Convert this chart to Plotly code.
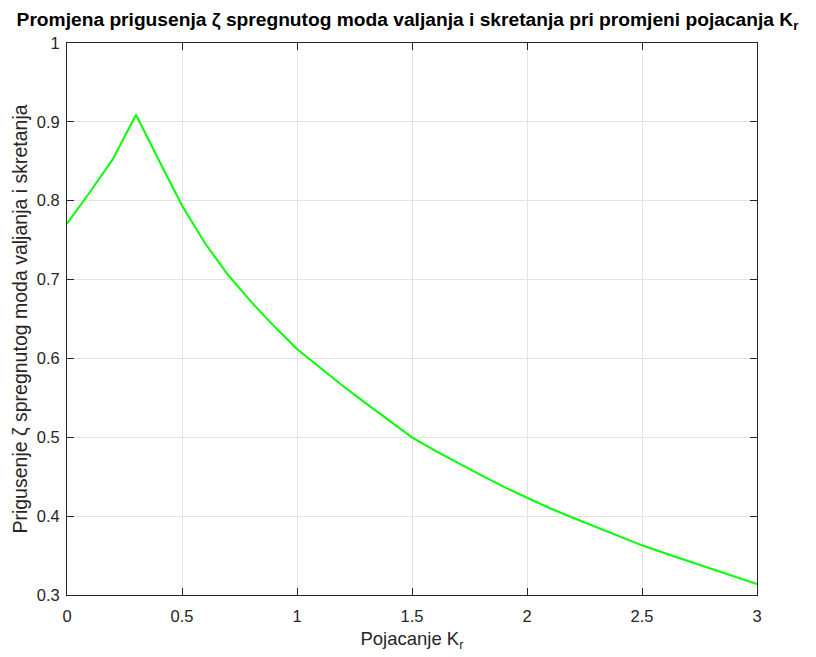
import plotly.graph_objects as go

# Gain K_r
kr = [0.0, 0.1, 0.2, 0.3, 0.4, 0.5, 0.6, 0.7, 0.8, 0.9, 1.0,
      1.1, 1.2, 1.3, 1.4, 1.5, 1.6, 1.7, 1.8, 1.9, 2.0,
      2.1, 2.2, 2.3, 2.4, 2.5, 2.6, 2.7, 2.8, 2.9, 3.0]
# Damping zeta
zeta = [0.771, 0.811, 0.853, 0.909, 0.851, 0.794, 0.746, 0.706, 0.672, 0.641, 0.612,
        0.588, 0.565, 0.543, 0.521, 0.500, 0.483, 0.467, 0.452, 0.437, 0.423,
        0.410, 0.398, 0.386, 0.374, 0.363, 0.353, 0.343, 0.333, 0.323, 0.314]

x_ticks = [0, 0.5, 1, 1.5, 2, 2.5, 3]
x_tick_labels = ["0", "0.5", "1", "1.5", "2", "2.5", "3"]
y_ticks = [0.3, 0.4, 0.5, 0.6, 0.7, 0.8, 0.9, 1.0]
y_tick_labels = ["0.3", "0.4", "0.5", "0.6", "0.7", "0.8", "0.9", "1"]

FONT = "Liberation Sans, Arial, Helvetica, sans-serif"
AX = "#262626"
GRID = "#e3e3e3"

W, H = 808, 649

fig = go.Figure()
fig.add_trace(go.Scatter(x=kr, y=zeta, mode="lines",
                         line=dict(color="#00ff00", width=2),
                         showlegend=False))

fig.update_layout(
    width=W, height=H,
    margin=dict(l=59, r=59, t=35, b=62, autoexpand=False),
    paper_bgcolor="white", plot_bgcolor="white",
    font=dict(family=FONT, size=16.5, color=AX),
    title=dict(text="<b>Promjena prigusenja ζ spregnutog moda valjanja i skretanja pri promjeni pojacanja K<sub>r</sub></b>",
               x=399.5 / W, xanchor="center", y=1 - 11 / H, yanchor="middle",
               font=dict(family=FONT, size=19.2, color="black")),
)
fig.update_xaxes(
    range=[0, 3], tickvals=x_ticks, ticktext=x_tick_labels,
    showgrid=True, gridcolor=GRID, gridwidth=1,
    zeroline=False, showline=True, linecolor=AX, linewidth=1,
    mirror="allticks", ticks="inside", ticklen=7, tickcolor=AX,
    tickfont=dict(size=16.5, color=AX), ticklabelstandoff=6,
    automargin=False,
    title=dict(text="Pojacanje K<sub>r</sub>", font=dict(size=18.5, color=AX), standoff=8),
)
fig.update_yaxes(
    range=[0.3, 1.0], tickvals=y_ticks, ticktext=y_tick_labels,
    showgrid=True, gridcolor=GRID, gridwidth=1,
    zeroline=False, showline=True, linecolor=AX, linewidth=1,
    mirror="allticks", ticks="inside", ticklen=7, tickcolor=AX,
    tickfont=dict(size=16.5, color=AX), ticklabelstandoff=3,
    automargin=False,
    title=dict(text="Prigusenje ζ spregnutog moda valjanja i skretanja", font=dict(size=19.5, color=AX), standoff=3),
)

fig.write_html("out.html")
